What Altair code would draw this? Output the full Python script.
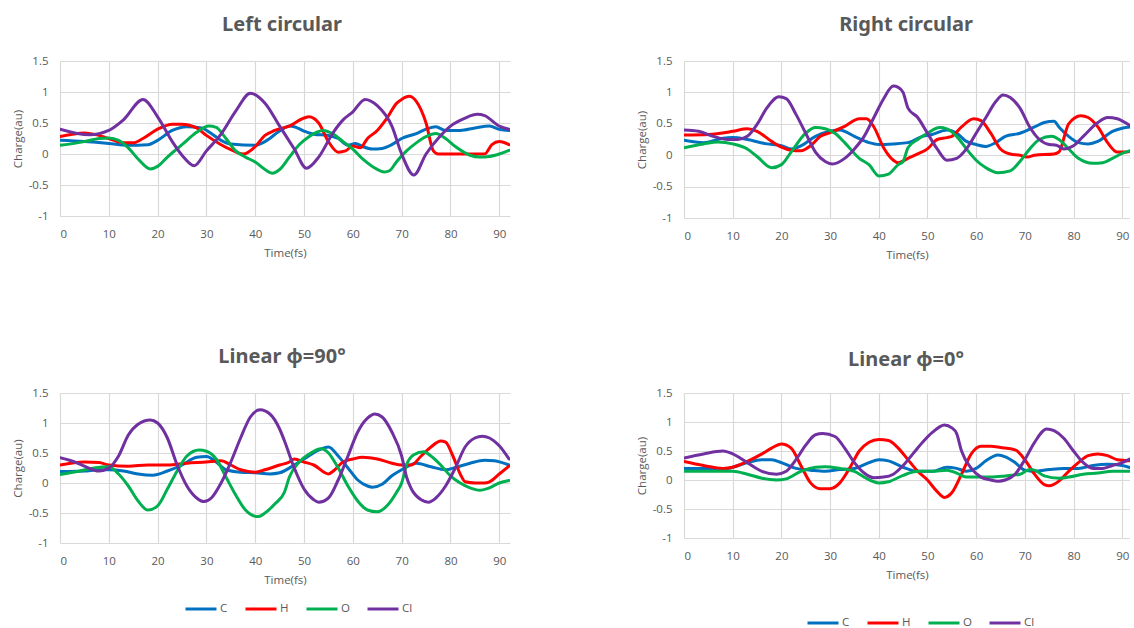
import altair as alt
import pandas as pd

ELEMENTS = ["C", "H", "O", "Cl"]
COLORS = ["#0070C0", "#FF0000", "#00B050", "#7030A0"]
X_TICKS = [0, 10, 20, 30, 40, 50, 60, 70, 80, 90]
Y_TICKS = [-1, -0.5, 0, 0.5, 1, 1.5]

# ---------------- Left circular ----------------
lc_C_t = [0, 5, 10, 14, 18, 20, 23, 26, 29, 31, 33, 35, 40, 42, 45, 47, 48, 50, 52, 55, 57, 59, 60.5, 62, 64, 66, 68, 70, 73, 75, 77, 79, 82, 85, 88, 90, 92]
lc_C_v = [0.22, 0.2, 0.17, 0.14, 0.15, 0.22, 0.38, 0.44, 0.42, 0.33, 0.22, 0.16, 0.14, 0.2, 0.37, 0.45, 0.44, 0.37, 0.32, 0.3, 0.25, 0.14, 0.17, 0.12, 0.08, 0.09, 0.15, 0.25, 0.33, 0.4, 0.44, 0.38, 0.38, 0.42, 0.45, 0.4, 0.38]
lc_H_t = [0, 5, 8, 10, 13, 15, 17, 20, 23, 25, 28, 30, 33, 35, 37.5, 40, 42, 44, 47, 50, 51, 53, 55, 57, 58.5, 60, 61.5, 63, 65, 67, 69, 70, 71.5, 73, 75, 76.5, 77.5, 80, 87, 88.5, 90, 92]
lc_H_v = [0.28, 0.34, 0.3, 0.25, 0.18, 0.18, 0.25, 0.4, 0.48, 0.48, 0.42, 0.3, 0.15, 0.07, 0.0, 0.12, 0.3, 0.38, 0.45, 0.58, 0.6, 0.5, 0.2, 0.03, 0.05, 0.13, 0.1, 0.25, 0.38, 0.58, 0.82, 0.88, 0.93, 0.85, 0.5, 0.05, 0.0, 0.0, 0.0, 0.15, 0.2, 0.15]
lc_O_t = [0, 5, 8, 10, 12, 14, 16, 18.5, 20, 22, 25, 28, 30.5, 32, 34, 36, 38, 40, 42, 43.5, 45, 47, 49, 51, 54, 56, 58, 60, 62, 64, 66.5, 67.5, 69, 71, 73, 75, 77, 79, 81, 84, 86, 88, 90, 92]
lc_O_v = [0.14, 0.2, 0.25, 0.26, 0.22, 0.1, -0.08, -0.24, -0.2, -0.05, 0.15, 0.35, 0.45, 0.43, 0.25, 0.05, -0.05, -0.13, -0.25, -0.31, -0.25, -0.05, 0.15, 0.28, 0.38, 0.32, 0.2, 0.08, -0.08, -0.2, -0.29, -0.27, -0.12, 0.05, 0.18, 0.28, 0.33, 0.25, 0.12, -0.02, -0.05, -0.04, 0.0, 0.06]
lc_Cl_t = [0, 6, 10, 13, 17, 20, 23, 25, 27.5, 30, 33, 36, 39, 42, 45, 48, 50.5, 53, 56, 58, 60, 62.5, 65, 68, 70, 72.5, 75, 78, 80, 83, 85.5, 87, 90, 92]
lc_Cl_v = [0.4, 0.31, 0.38, 0.55, 0.88, 0.6, 0.2, -0.02, -0.19, 0.05, 0.32, 0.69, 0.98, 0.82, 0.45, 0.08, -0.23, -0.05, 0.35, 0.55, 0.68, 0.88, 0.78, 0.45, 0.0, -0.34, 0.0, 0.3, 0.45, 0.58, 0.64, 0.62, 0.45, 0.4]

# ---------------- Right circular ----------------
rc_C_t = [0, 4, 8, 10, 13, 17, 20, 22, 24, 27, 30, 32, 35, 38, 40, 43, 46, 49, 51, 54, 56, 58, 60, 62, 64, 66, 69, 72, 74, 76, 77, 79, 81, 83, 85, 88, 90, 92]
rc_C_v = [0.24, 0.2, 0.27, 0.28, 0.25, 0.18, 0.15, 0.1, 0.15, 0.3, 0.38, 0.4, 0.3, 0.2, 0.17, 0.18, 0.2, 0.3, 0.33, 0.4, 0.35, 0.22, 0.17, 0.14, 0.2, 0.3, 0.35, 0.45, 0.52, 0.54, 0.45, 0.3, 0.2, 0.18, 0.22, 0.38, 0.43, 0.45]
rc_H_t = [0, 5, 10, 13, 15, 18, 20, 22, 24, 26, 28, 30, 33, 36, 37.5, 39, 41, 43, 44, 46, 48, 50, 52, 54, 55, 57, 59.5, 61, 63, 65, 67, 69, 70.5, 72, 76, 77, 79, 81.5, 83, 85, 87, 89, 91, 92]
rc_H_v = [0.32, 0.33, 0.38, 0.42, 0.38, 0.22, 0.13, 0.08, 0.07, 0.15, 0.3, 0.36, 0.46, 0.58, 0.58, 0.45, 0.12, -0.08, -0.12, -0.05, 0.02, 0.1, 0.25, 0.28, 0.3, 0.45, 0.58, 0.55, 0.35, 0.1, 0.02, 0.0, -0.03, 0.0, 0.02, 0.05, 0.5, 0.63, 0.6, 0.45, 0.2, 0.05, 0.05, 0.08]
rc_O_t = [0, 4, 7, 10, 13, 15, 18, 20, 22, 25, 27, 29, 31, 33, 36, 38, 40, 42, 44, 45, 46, 48, 50, 52.5, 54, 56, 58, 60, 62, 64.5, 67, 69, 71, 73, 75.5, 77, 79, 81, 84, 86, 88, 90, 92]
rc_O_v = [0.12, 0.18, 0.21, 0.18, 0.1, -0.02, -0.2, -0.15, 0.05, 0.35, 0.44, 0.42, 0.35, 0.2, -0.05, -0.15, -0.33, -0.3, -0.15, -0.1, 0.12, 0.25, 0.35, 0.44, 0.42, 0.3, 0.1, -0.08, -0.2, -0.28, -0.25, -0.1, 0.1, 0.25, 0.3, 0.25, 0.1, -0.05, -0.13, -0.12, -0.05, 0.03, 0.08]
rc_Cl_t = [0, 3, 6, 9, 11, 13, 15, 17, 19.5, 21, 23, 25, 27, 29, 30.5, 33, 35, 37, 39, 41, 43, 44, 45, 46, 48, 50, 52, 54, 56, 58, 60, 62, 64, 65.5, 67, 69, 71, 73, 75, 76.5, 78, 80, 82, 85, 87, 89, 91, 92]
rc_Cl_v = [0.4, 0.38, 0.3, 0.25, 0.25, 0.3, 0.49, 0.75, 0.93, 0.9, 0.65, 0.35, 0.05, -0.1, -0.14, -0.05, 0.1, 0.3, 0.6, 0.9, 1.1, 1.08, 1.0, 0.75, 0.6, 0.35, 0.1, -0.08, -0.05, 0.1, 0.35, 0.6, 0.85, 0.96, 0.92, 0.75, 0.45, 0.25, 0.17, 0.16, 0.1, 0.15, 0.3, 0.52, 0.6, 0.58, 0.5, 0.45]

# ---------------- Linear phi=90 ----------------
l90_C_t = [0, 5, 8, 10, 13, 16, 19, 22, 25, 28, 30, 32, 34, 37, 40, 43, 45, 48, 50, 53, 55, 57, 59, 61, 63, 64, 66, 68, 70, 73, 76, 79, 81, 84, 87, 89, 92]
l90_C_v = [0.19, 0.2, 0.22, 0.22, 0.2, 0.15, 0.13, 0.2, 0.3, 0.43, 0.44, 0.35, 0.22, 0.18, 0.17, 0.15, 0.17, 0.3, 0.4, 0.55, 0.6, 0.45, 0.25, 0.05, -0.05, -0.07, -0.02, 0.12, 0.22, 0.33, 0.27, 0.22, 0.26, 0.33, 0.38, 0.37, 0.3]
l90_H_t = [0, 5, 8, 10, 14, 18, 22, 26, 30, 33, 35, 37, 40, 42, 45, 47, 48, 50, 52, 55, 56, 58, 60, 62, 65, 68, 70, 72, 74, 76, 78, 79, 80.5, 82, 83, 85, 87, 88, 90, 92]
l90_H_v = [0.3, 0.35, 0.34, 0.3, 0.28, 0.3, 0.3, 0.33, 0.35, 0.37, 0.3, 0.22, 0.18, 0.22, 0.3, 0.35, 0.4, 0.35, 0.3, 0.15, 0.2, 0.35, 0.4, 0.43, 0.4, 0.33, 0.3, 0.3, 0.45, 0.6, 0.7, 0.68, 0.45, 0.15, 0.02, 0.0, 0.0, 0.02, 0.15, 0.28]
l90_O_t = [0, 4, 7, 10, 12, 14, 16, 18, 20, 22, 24, 26, 28.5, 30, 32, 34, 36, 38, 40.5, 42, 44, 46, 47, 49, 51, 53.5, 55, 57, 59, 61, 63, 65, 67, 69, 70, 71, 72.5, 74.5, 76, 78, 80, 82, 84, 86, 88, 90, 92]
l90_O_v = [0.14, 0.2, 0.25, 0.27, 0.15, -0.05, -0.3, -0.45, -0.38, -0.1, 0.2, 0.45, 0.55, 0.53, 0.4, 0.1, -0.2, -0.45, -0.56, -0.5, -0.35, -0.15, 0.1, 0.35, 0.48, 0.57, 0.5, 0.25, -0.05, -0.3, -0.45, -0.48, -0.38, -0.15, 0.0, 0.3, 0.47, 0.52, 0.45, 0.3, 0.12, 0.0, -0.08, -0.12, -0.08, 0.0, 0.04]
l90_Cl_t = [0, 3, 5, 8, 10, 12, 14, 16, 18.5, 20, 22, 24, 26, 28, 29.5, 31, 33, 35, 37, 39, 41, 43, 45, 46, 48, 50, 52, 53, 55, 57, 59, 61, 63, 64.5, 66, 68, 70, 71, 72, 74, 75.5, 77, 79, 81, 83, 85, 86.5, 88, 90, 92]
l90_Cl_v = [0.42, 0.35, 0.28, 0.2, 0.25, 0.45, 0.8, 0.98, 1.05, 1.0, 0.75, 0.3, -0.05, -0.25, -0.31, -0.25, 0.0, 0.35, 0.75, 1.1, 1.22, 1.15, 0.9, 0.7, 0.25, -0.1, -0.28, -0.32, -0.25, 0.05, 0.45, 0.85, 1.08, 1.15, 1.1, 0.85, 0.45, 0.1, -0.1, -0.28, -0.32, -0.25, -0.05, 0.25, 0.6, 0.75, 0.78, 0.75, 0.62, 0.4]

# ---------------- Linear phi=0 ----------------
l0_C_t = [0, 5, 8, 10, 13, 16, 18, 20, 23, 26, 29, 32, 35, 38, 40, 42, 45, 48, 51, 54, 56, 58, 60, 62, 64.5, 66, 68, 70, 72, 75, 78, 81, 84, 87, 90, 92]
l0_C_v = [0.2, 0.2, 0.18, 0.22, 0.3, 0.35, 0.35, 0.3, 0.2, 0.17, 0.15, 0.18, 0.2, 0.3, 0.35, 0.33, 0.22, 0.15, 0.15, 0.22, 0.2, 0.15, 0.2, 0.33, 0.43, 0.4, 0.3, 0.17, 0.15, 0.18, 0.2, 0.2, 0.25, 0.27, 0.25, 0.2]
l0_H_t = [0, 4, 8, 10, 13, 16, 18, 20, 22, 24, 26, 28, 30, 32, 34, 36, 38, 40, 42, 44, 46, 48, 50, 52, 53.5, 55, 57, 59, 61, 63, 65, 68, 70, 72, 74, 75, 77, 79, 81, 83, 85, 87, 89, 92]
l0_H_v = [0.32, 0.25, 0.2, 0.22, 0.32, 0.45, 0.55, 0.62, 0.55, 0.25, -0.05, -0.15, -0.15, -0.05, 0.2, 0.5, 0.65, 0.7, 0.68, 0.55, 0.35, 0.15, 0.0, -0.2, -0.3, -0.22, 0.1, 0.45, 0.58, 0.58, 0.56, 0.52, 0.35, 0.1, -0.08, -0.1, -0.02, 0.15, 0.3, 0.42, 0.45, 0.42, 0.35, 0.33]
l0_O_t = [0, 5, 10, 13, 16, 19, 21, 24, 27, 29, 32, 35, 37, 40, 42, 45, 48, 51, 54, 56, 58, 60, 63, 66, 69, 71, 72, 74, 77, 79, 82, 85, 88, 92]
l0_O_v = [0.15, 0.15, 0.15, 0.1, 0.03, 0.0, 0.02, 0.15, 0.22, 0.23, 0.2, 0.15, 0.05, -0.05, -0.03, 0.08, 0.15, 0.15, 0.17, 0.12, 0.05, 0.05, 0.05, 0.07, 0.1, 0.18, 0.17, 0.07, 0.03, 0.05, 0.1, 0.12, 0.15, 0.15]
l0_Cl_t = [0, 4, 8, 10, 13, 16, 19, 21, 23, 25, 27, 28.5, 31, 33, 35, 37, 39, 41, 43, 45, 47, 49, 51, 53.5, 55, 56, 57, 59, 61, 63, 64.5, 66, 68, 70, 72, 74.5, 76, 78, 80, 82, 84, 86, 88, 90, 92]
l0_Cl_v = [0.38, 0.45, 0.5, 0.45, 0.3, 0.15, 0.1, 0.15, 0.35, 0.6, 0.78, 0.8, 0.75, 0.55, 0.3, 0.12, 0.04, 0.05, 0.1, 0.25, 0.45, 0.65, 0.82, 0.95, 0.9, 0.8, 0.5, 0.2, 0.05, 0.0, -0.02, 0.0, 0.1, 0.35, 0.65, 0.88, 0.85, 0.72, 0.5, 0.3, 0.2, 0.2, 0.25, 0.3, 0.38]

GRAY = "#595959"
FONT = "Open Sans"
TITLE_FONT = "Noto Sans, Open Sans, DejaVu Sans"


def make_df(series):
    rows = []
    for name, (ts, vs) in zip(ELEMENTS, series):
        for t, v in zip(ts, vs):
            rows.append({"Time": t, "Charge": v, "Element": name})
    return pd.DataFrame(rows)


def panel(series, title, width, height, xmax, title_offset, title_dx, legend_xy=None):
    if legend_xy is None:
        legend = None
    else:
        legend = alt.Legend(
            orient="none", legendX=legend_xy[0], legendY=legend_xy[1],
            direction="horizontal", title=None, symbolType="stroke",
            symbolStrokeWidth=3, symbolSize=961, labelFont=FONT,
            labelFontSize=11.5, labelColor=GRAY, labelOffset=2,
            columnPadding=11, padding=0,
        )
    return alt.Chart(make_df(series)).mark_line(
        strokeWidth=3, interpolate="monotone", clip=True, strokeCap="round"
    ).encode(
        x=alt.X("Time:Q", scale=alt.Scale(domain=[0, xmax], nice=False, zero=False),
                axis=alt.Axis(values=X_TICKS, title="Time(fs)")),
        y=alt.Y("Charge:Q", scale=alt.Scale(domain=[-1, 1.5], nice=False),
                axis=alt.Axis(values=Y_TICKS, title="Charge(au)", labelExpr="'' + datum.value")),
        color=alt.Color("Element:N", scale=alt.Scale(domain=ELEMENTS, range=COLORS), legend=legend),
    ).properties(
        width=width, height=height,
        title=alt.TitleParams(title, offset=title_offset, dx=title_dx),
    )


p1 = panel([(lc_C_t, lc_C_v), (lc_H_t, lc_H_v), (lc_O_t, lc_O_v), (lc_Cl_t, lc_Cl_v)],
           "Left circular", 450, 155, 92.2, 20, -3)
p2 = panel([(rc_C_t, rc_C_v), (rc_H_t, rc_H_v), (rc_O_t, rc_O_v), (rc_Cl_t, rc_Cl_v)],
           "Right circular", 446, 157, 91.6, 20, -1)
p3 = panel([(l90_C_t, l90_C_v), (l90_H_t, l90_H_v), (l90_O_t, l90_O_v), (l90_Cl_t, l90_Cl_v)],
           "Linear \u03d5=90°", 450, 150, 92.2, 20, -3, legend_xy=(124, 199))
p4 = panel([(l0_C_t, l0_C_v), (l0_H_t, l0_H_v), (l0_O_t, l0_O_v), (l0_Cl_t, l0_Cl_v)],
           "Linear \u03d5=0°", 446, 145, 91.6, 17, -1, legend_xy=(122, 213))

chart = alt.concat(p1, p2, p3, p4, columns=2).properties(
    spacing={"row": 175, "column": 174},
    bounds="flush",
    padding={"left": 12, "top": 15, "right": 0, "bottom": 0},
    background="white",
).resolve_scale(color="independent").resolve_legend(color="independent").configure_view(
    stroke=None
).configure_axis(
    gridColor="#d9d9d9", gridWidth=1.2, domain=False, ticks=False, tickSize=0,
    labelFont=FONT, labelFontSize=11.5, labelColor=GRAY,
    titleFont=FONT, titleFontSize=11.5, titleFontWeight="normal", titleColor=GRAY,
).configure_axisX(labelPadding=12, titlePadding=8).configure_axisY(
    labelPadding=12, titlePadding=5
).configure_title(
    font=TITLE_FONT, fontSize=20, fontWeight="bold", color=GRAY, anchor="middle", frame="group"
)

chart.save("out.html", embed_options={"renderer": "svg", "actions": False})
